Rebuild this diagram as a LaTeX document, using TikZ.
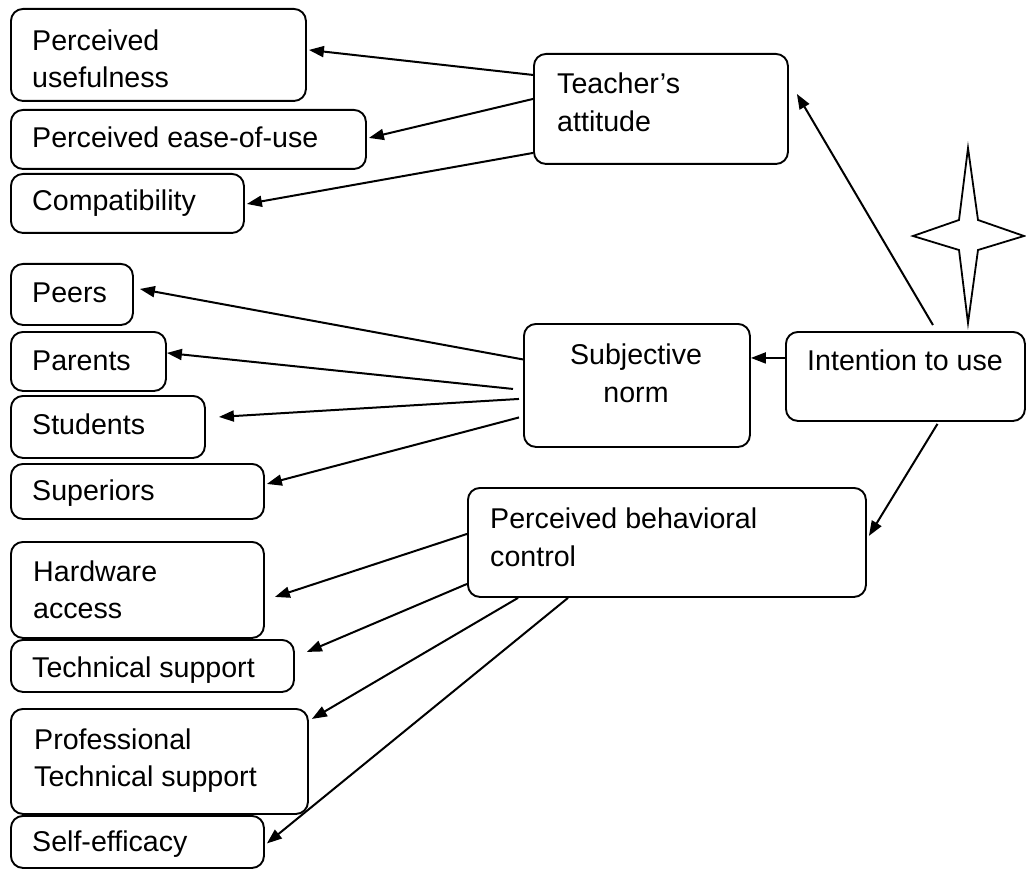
\documentclass[tikz,border=0pt]{standalone}
\usepackage{fontspec}
\setmainfont{Liberation Sans}
\usetikzlibrary{arrows.meta}
\begin{document}
\begin{tikzpicture}[x=1pt,y=-1pt,
  box/.style={draw, line width=1.9pt, rounded corners=12pt, inner sep=0pt, anchor=north west},
  lbl/.style={anchor=base west, inner sep=0pt, font=\fontsize{28.6}{37}\selectfont},
  clbl/.style={anchor=base, inner sep=0pt, font=\fontsize{28.6}{37}\selectfont},
  arr/.style={line width=2pt, -{Triangle[length=15pt,width=11pt]}}]
\useasboundingbox (0,0) rectangle (1026,869);
% boxes
\node[box, minimum width=295pt, minimum height=92pt] (pu) at (10,8) {};
\node[box, minimum width=355pt, minimum height=59pt] (peou) at (10,109) {};
\node[box, minimum width=233pt, minimum height=59pt] (comp) at (10,173) {};
\node[box, minimum width=254pt, minimum height=110pt] (ta) at (533,53) {};
\node[box, minimum width=122pt, minimum height=61pt] (peers) at (10,263) {};
\node[box, minimum width=155pt, minimum height=59pt] (parents) at (10,331) {};
\node[box, minimum width=194pt, minimum height=62pt] (students) at (10,395) {};
\node[box, minimum width=253pt, minimum height=55pt] (sup) at (10,463) {};
\node[box, minimum width=226pt, minimum height=123pt] (sn) at (523,323) {};
\node[box, minimum width=239pt, minimum height=89pt] (itu) at (785,331) {};
\node[box, minimum width=398pt, minimum height=109pt] (pbc) at (467,487) {};
\node[box, minimum width=253pt, minimum height=96pt] (hw) at (10,541) {};
\node[box, minimum width=283pt, minimum height=52pt] (ts) at (10,639) {};
\node[box, minimum width=297pt, minimum height=105pt] (pts) at (10,708) {};
\node[box, minimum width=253pt, minimum height=52pt] (se) at (10,815) {};
% texts
\node[lbl] (t-pu1) at (32,51) {Perceived};
\node[lbl] (t-pu2) at (32,88) {usefulness};
\node[lbl] (t-peou) at (32,148) {Perceived ease-of-use};
\node[lbl] (t-comp) at (32,211) {Compatibility};
\node[lbl] (t-ta1) at (557,94) {Teacher’s};
\node[lbl] (t-ta2) at (557,132) {attitude};
\node[lbl] (t-peers) at (32,302) {Peers};
\node[lbl] (t-parents) at (32,370) {Parents};
\node[lbl] (t-students) at (32,434) {Students};
\node[lbl] (t-sup) at (32,500) {Superiors};
\node[clbl] (t-sn1) at (636,364) {Subjective};
\node[clbl] (t-sn2) at (636,402) {norm};
\node[lbl] (t-itu) at (807,370) {Intention to use};
\node[lbl] (t-pbc1) at (490,528) {Perceived behavioral};
\node[lbl] (t-pbc2) at (490,566) {control};
\node[lbl] (t-hw1) at (33,581) {Hardware};
\node[lbl] (t-hw2) at (33,618) {access};
\node[lbl] (t-ts) at (32,677) {Technical support};
\node[lbl] (t-pts1) at (34,749) {Professional};
\node[lbl] (t-pts2) at (34,786) {Technical support};
\node[lbl] (t-se) at (32,851) {Self-efficacy};
% connectors
\draw[arr] ([shift={(0,-34)}]ta.west) -- ([shift={(2,-5)}]pu.east);
\draw[arr] ([shift={(0,-10)}]ta.west) -- ([shift={(2,-1.5)}]peou.east);
\draw[arr] ([shift={(0,44)}]ta.west) -- ([shift={(2,0.5)}]comp.east);
\draw[arr] ([shift={(27.5,-6)}]itu.north) -- ([shift={(8,-15)}]ta.east);
\draw[arr] ([shift={(0,-18.5)}]itu.west) -- ([shift={(0,-27.5)}]sn.east);
\draw[arr] ([shift={(0,-26)}]sn.west) -- ([shift={(6,-5.5)}]peers.east);
\draw[arr] ([shift={(-10,3.5)}]sn.west) -- ([shift={(0,-8.5)}]parents.east);
\draw[arr] ([shift={(-4,13.5)}]sn.west) -- ([shift={(13,-10)}]students.east);
\draw[arr] ([shift={(-4,32)}]sn.west) -- ([shift={(2,-7.5)}]sup.east);
\draw[arr] ([shift={(32,2)}]itu.south) -- ([shift={(2,-6.5)}]pbc.east);
\draw[arr] ([shift={(0,-8.5)}]pbc.west) -- ([shift={(10,7)}]hw.east);
\draw[arr] ([shift={(0,41.5)}]pbc.west) -- ([shift={(12,-14)}]ts.east);
\draw[arr] ([shift={(51,0)}]pbc.south west) -- ([shift={(3,-42.5)}]pts.east);
\draw[arr] ([shift={(101,0)}]pbc.south west) -- ([shift={(2,1.5)}]se.east);
% star
\draw[line width=1.8pt, line join=miter] (968,148) -- (978,220) -- (1024,236) -- (978,250) -- (968,323) -- (959,250) -- (913,236) -- (959,220) -- cycle;
\end{tikzpicture}
\end{document}
